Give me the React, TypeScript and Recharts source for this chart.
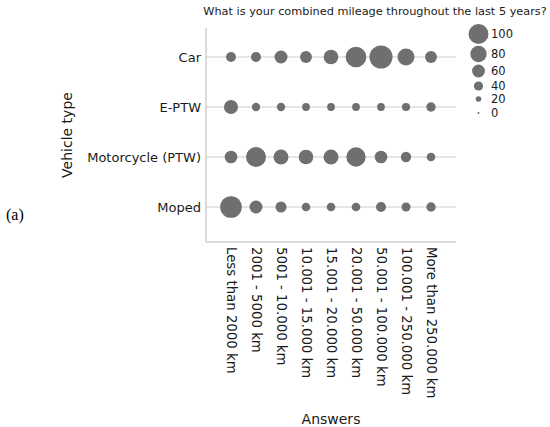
import React from 'react';
import { ScatterChart, Scatter, XAxis, YAxis, ReferenceLine } from 'recharts';

const answers = [
  'Less than 2000 km',
  '2001 - 5000 km',
  '5001 - 10.000 km',
  '10.001 - 15.000 km',
  '15.001 - 20.000 km',
  '20.001 - 50.000 km',
  '50.001 - 100.000 km',
  '100.001 - 250.000 km',
  'More than 250.000 km',
];

const vehicleTypes = ['Car', 'E-PTW', 'Motorcycle (PTW)', 'Moped'];

const carCounts = [44, 44, 61, 55, 70, 104, 117, 83, 55];
const eptwCounts = [67, 35, 35, 32, 32, 32, 32, 34, 41];
const motorcycleCounts = [59, 100, 72, 70, 72, 96, 59, 46, 37];
const mopedCounts = [109, 61, 50, 37, 37, 37, 44, 39, 41];

const legendSizes = [100, 80, 60, 40, 20, 0];

const seriesCounts = [carCounts, eptwCounts, motorcycleCounts, mopedCounts];

const bubbleColor = '#6f6f6f';
const font = '"DejaVu Sans", sans-serif';

// bubble diameter grows linearly with count
const radiusFor = (v: number) => (2 + 0.18 * v) / 2;

const rowY = (r: number) => vehicleTypes.length - 1 - r;

const rows = seriesCounts.map((counts, r) =>
  counts.map((v, i) => ({ x: i + 1, y: rowY(r), v }))
);

const Bubble = (props: any) => {
  const { cx, cy, payload } = props;
  if (cx == null || cy == null) return null;
  return <circle cx={cx} cy={cy} r={radiusFor(payload.v)} fill={bubbleColor} />;
};

const AnswerTick = (props: any) => {
  const { x, y, payload } = props;
  return (
    <text
      x={x}
      y={y}
      transform={`rotate(90, ${x}, ${y})`}
      textAnchor="start"
      dominantBaseline="central"
      fontSize={13.3}
      fontFamily={font}
      fill="#1a1a1a"
    >
      {answers[payload.value - 1]}
    </text>
  );
};

const SizeLegend = () => (
  <svg width={80} height={110} style={{ position: 'absolute', left: 466, top: 22 }}>
    {legendSizes.map((s, i) => {
      const cy = [12, 32, 49, 64, 77, 91][i];
      return (
        <g key={s}>
          <circle cx={12.5} cy={cy} r={radiusFor(s)} fill={bubbleColor} />
          <text x={25} y={cy} dominantBaseline="central" fontSize={11.5} fontFamily={font} fill="#1a1a1a">
            {s}
          </text>
        </g>
      );
    })}
  </svg>
);

const VehicleLabel = (props: any) => {
  const vb = props.viewBox || {};
  const cx = 67;
  const cy = vb.y + vb.height / 2;
  return (
    <text
      x={cx}
      y={cy}
      transform={`rotate(-90, ${cx}, ${cy})`}
      textAnchor="middle"
      dominantBaseline="central"
      fontSize={14}
      fontFamily={font}
      fill="#1a1a1a"
    >
      Vehicle type
    </text>
  );
};

export default function App() {
  return (
    <div style={{ position: 'absolute', left: 0, top: 0, width: 550, height: 427, background: '#fff' }}>
      <div
        style={{
          position: 'absolute',
          left: 200,
          width: 350,
          top: 5,
          textAlign: 'center',
          fontFamily: font,
          fontSize: 11.3,
          color: '#1a1a1a',
          whiteSpace: 'nowrap',
        }}
      >
        What is your combined mileage throughout the last 5 years?
      </div>
      <div
        style={{
          position: 'absolute',
          left: 6,
          top: 206,
          fontFamily: '"Liberation Serif", serif',
          fontSize: 16,
          color: '#000',
        }}
      >
        (a)
      </div>
      <ScatterChart width={550} height={427} margin={{ top: 28, right: 94, bottom: 0, left: 0 }}>
        <XAxis
          type="number"
          dataKey="x"
          domain={[0, 10]}
          ticks={[1, 2, 3, 4, 5, 6, 7, 8, 9]}
          height={185}
          stroke="#b8b8b8"
          tickLine={false}
          tickSize={0}
          tickMargin={5}
          tick={<AnswerTick />}
          label={{ value: 'Answers', position: 'insideBottom', offset: 3, fontSize: 14, fontFamily: font, fill: '#1a1a1a' }}
        />
        <YAxis
          type="number"
          dataKey="y"
          domain={[-0.7, 3.58]}
          ticks={[0, 1, 2, 3]}
          width={206}
          stroke="#b8b8b8"
          tickLine={false}
          tickSize={0}
          tickMargin={5}
          tickFormatter={(v: number) => vehicleTypes[rowY(v)]}
          tick={{ fontSize: 13, fontFamily: font, fill: '#1a1a1a' }}
          label={<VehicleLabel />}
        />
        {vehicleTypes.map((name, r) => (
          <ReferenceLine key={name} y={rowY(r)} stroke="#cccccc" />
        ))}
        {rows.map((data, r) => (
          <Scatter key={vehicleTypes[r]} data={data} shape={<Bubble />} isAnimationActive={false} />
        ))}
      </ScatterChart>
      <SizeLegend />
    </div>
  );
}
